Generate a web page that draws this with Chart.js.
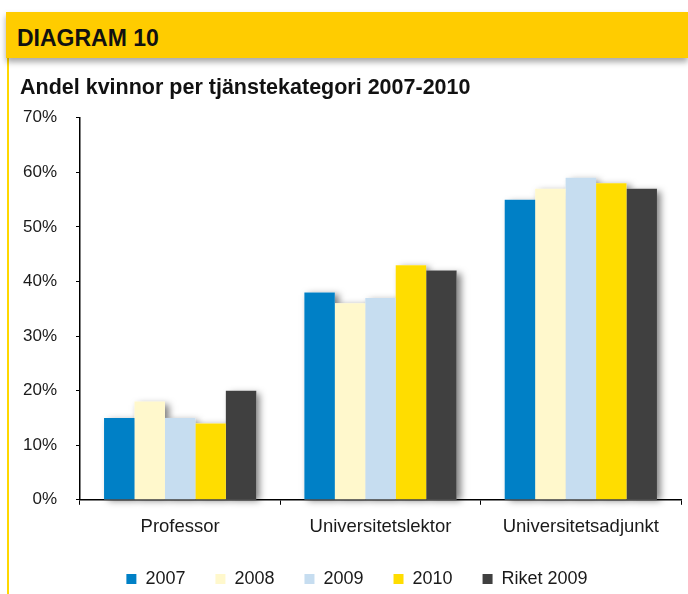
<!DOCTYPE html>
<html>
<head>
<meta charset="utf-8">
<script src="https://cdn.jsdelivr.net/npm/chart.js@4"></script>
<style>
  body { margin: 0; background: #fff; width: 688px; height: 594px; overflow: hidden; position: relative; font-family: "Liberation Sans", Arial, sans-serif; }
  #band { position: absolute; left: 6px; top: 12px; width: 682px; height: 46px; background: #ffcc00; box-shadow: 0 4px 6px rgba(0,0,0,0.35); }
  #band span { position: absolute; left: 11px; top: 13px; font-weight: bold; font-size: 23px; color: #111; }
  #edge { position: absolute; left: 7px; top: 58px; width: 2px; height: 536px; background: #ffd800; }
  #wrap { position: absolute; left: 4px; top: 64px; width: 684px; height: 534px; }
</style>
</head>
<body>
<div id="edge"></div>
<div id="band"><span>DIAGRAM 10</span></div>
<div id="wrap"><canvas id="chart"></canvas></div>
<script>
// categories and series (share of women, %)
const categories = ['Professor', 'Universitetslektor', 'Universitetsadjunkt'];
const seriesNames = ['2007', '2008', '2009', '2010', 'Riket 2009'];
const values2007 = [15, 38, 55];
const values2008 = [18, 36, 57];
const values2009 = [15, 37, 59];
const values2010 = [14, 43, 58];
const valuesRiket = [20, 42, 57];
const yTicks = [0, 10, 20, 30, 40, 50, 60, 70];
const colors = ['#0080c6', '#fff8cc', '#c6ddf0', '#ffdd00', '#404040'];

const allValues = [values2007, values2008, values2009, values2010, valuesRiket];

// draw all bar shadows first so the bars themselves sit on top of them
const shadowPlugin = {
    id: 'barShadow',
    beforeDatasetsDraw(chart) {
        const ctx = chart.ctx;
        ctx.save();
        ctx.shadowColor = 'rgba(0,0,0,0.5)';
        ctx.shadowBlur = 7;
        ctx.shadowOffsetX = 4;
        ctx.shadowOffsetY = 2;
        ctx.fillStyle = '#ffffff';
        chart.getSortedVisibleDatasetMetas().forEach(meta => {
            meta.data.forEach(bar => {
                const p = bar.getProps(['x', 'y', 'base', 'width'], true);
                ctx.fillRect(p.x - p.width / 2, p.y, p.width, p.base - p.y);
            });
        });
        ctx.restore();
    }
};

// the original legend sits a bit left of the plot centre
const legendShift = {
    id: 'legendShift',
    afterLayout(chart) {
        chart.legend.left -= 19;
        chart.legend.right -= 19;
    }
};

const family = '"Liberation Sans", Arial, sans-serif';

new Chart(document.getElementById('chart'), {
    type: 'bar',
    data: {
        labels: categories,
        datasets: seriesNames.map((name, i) => ({
            label: name,
            data: allValues[i],
            backgroundColor: colors[i],
            borderWidth: 0,
            barPercentage: 1,
            categoryPercentage: 0.76
        }))
    },
    options: {
        responsive: true,
        maintainAspectRatio: false,
        animation: false,
        layout: { padding: { left: 16, right: 7, top: 0, bottom: 0 } },
        scales: {
            x: {
                grid: { display: true, drawOnChartArea: false, tickLength: 5, color: '#000', offset: true },
                border: { color: '#000', width: 1.5 },
                ticks: { color: '#1a1a1a', font: { family: family, size: 18.5 }, padding: 11 }
            },
            y: {
                min: 0,
                max: 70,
                afterBuildTicks(scale) {
                    scale.ticks = yTicks.map(v => ({ value: v }));
                },
                afterFit(scale) {
                    scale.width = 60;
                },
                grid: { display: true, drawOnChartArea: false, tickLength: 4, color: '#000' },
                border: { color: '#000', width: 1.5 },
                ticks: { color: '#1a1a1a', font: { family: family, size: 17 }, padding: 19, callback: v => v + '%' }
            }
        },
        plugins: {
            title: {
                display: true,
                text: 'Andel kvinnor per tjänstekategori 2007-2010',
                align: 'start',
                color: '#111',
                font: { family: family, size: 21.5, weight: 'bold' },
                padding: { top: 11, bottom: 17 }
            },
            legend: {
                position: 'bottom',
                fullSize: false,
                labels: {
                    color: '#1a1a1a',
                    font: { family: family, size: 18 },
                    boxWidth: 10,
                    boxHeight: 10,
                    padding: 21,
                    // a little extra room after each name, like the original legend
                    generateLabels(chart) {
                        return Chart.defaults.plugins.legend.labels.generateLabels(chart)
                            .map(item => Object.assign(item, { text: item.text + '\u2002' }));
                    }
                }
            },
            tooltip: { enabled: false }
        }
    },
    plugins: [shadowPlugin, legendShift]
});
</script>
</body>
</html>
